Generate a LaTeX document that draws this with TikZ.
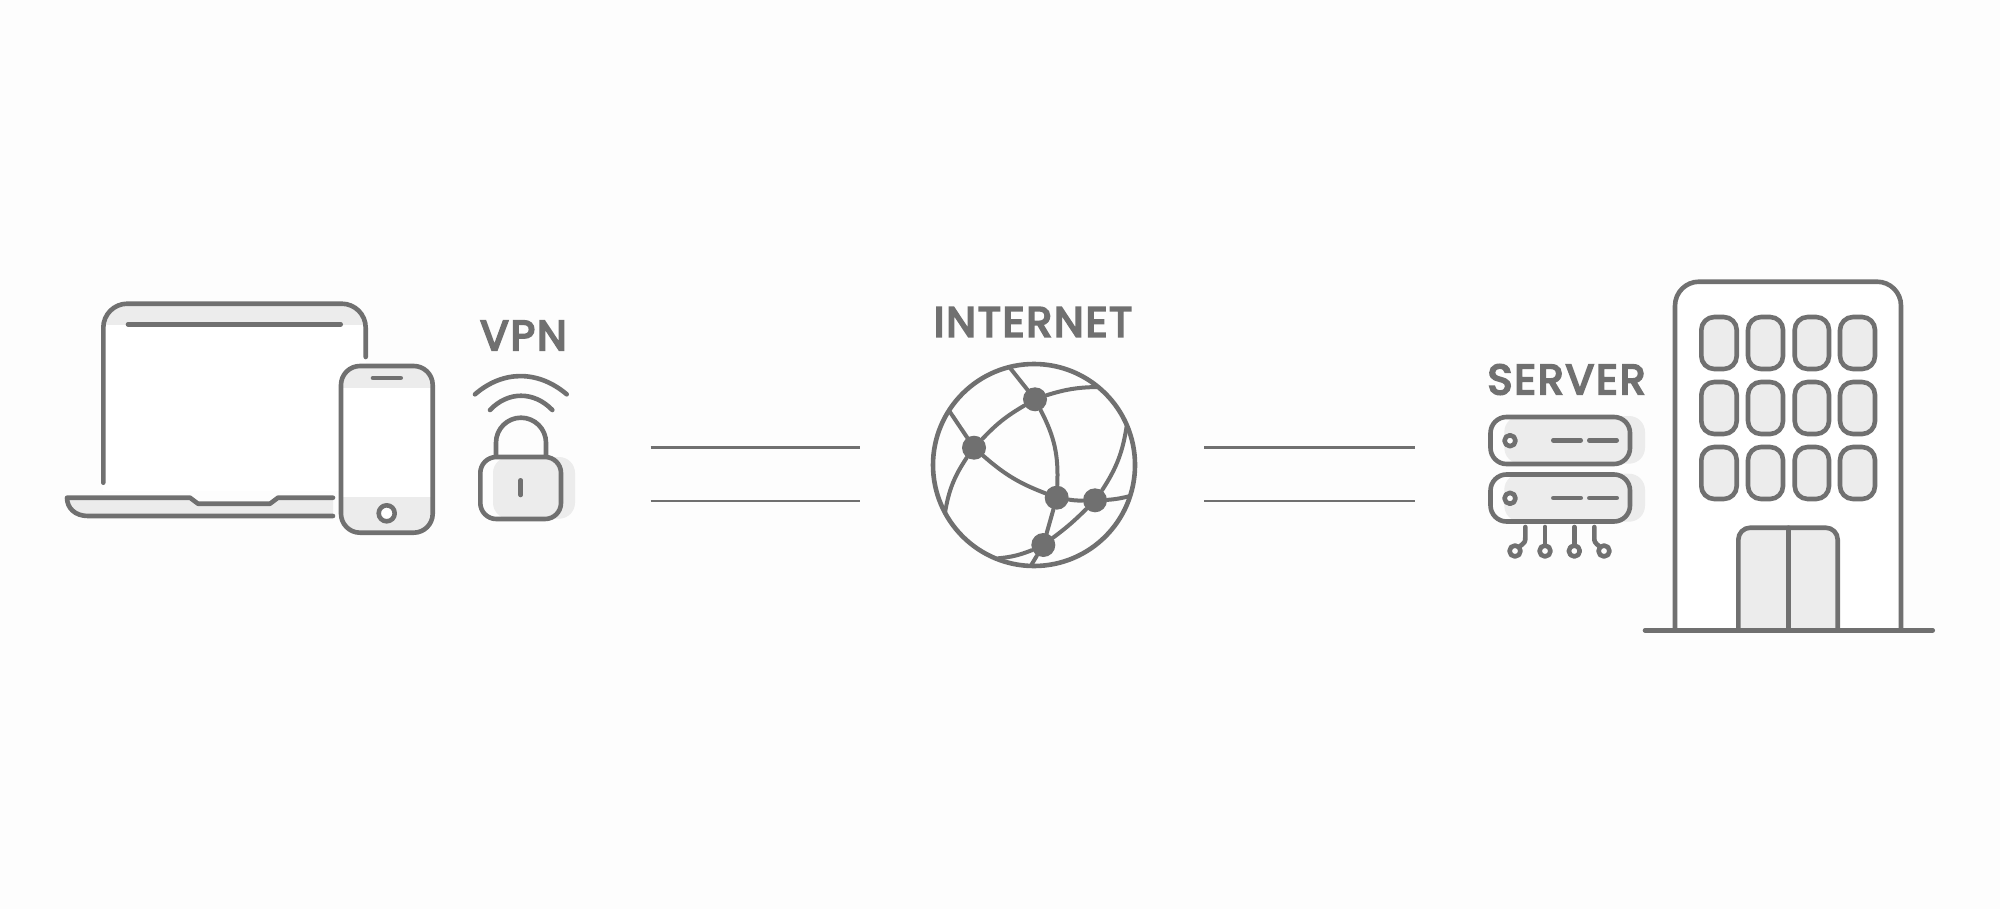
\documentclass[tikz,border=0pt]{standalone}
\usepackage{fontspec}
\setmainfont{Poppins}
\newfontfamily\lblfont{Poppins}[FakeBold=5,LetterSpace=5]
\definecolor{ink}{HTML}{707070}
\definecolor{softgray}{HTML}{ECECEC}
\definecolor{paper}{HTML}{FDFDFD}
\tikzset{
  px/.style={x=0.5pt,y=-0.5pt},
  stroke/.style={draw=ink,line width=2.3pt,line cap=round,line join=round},
  thin stroke/.style={draw=ink,line width=1.2pt},
  label text/.style={text=ink,inner sep=0pt,font=\fontsize{21}{24}\lblfont},
  hub/.style={circle,fill=ink,draw=none,inner sep=0pt,minimum size=12pt},
  link/.style={draw=ink,line width=2pt,line cap=round},
  window/.style={stroke,fill=softgray,rounded corners=6.5pt},
  pin/.style={stroke,fill=paper}
}
\begin{document}
\begin{tikzpicture}[px]
\useasboundingbox (0,0) rectangle (2000,909);
\fill[paper] (0,0) rectangle (2000,909);
\begin{scope}[yshift=-0.5pt]

% ---------- laptop
\fill[white,rounded corners=12pt] (103,303) rectangle (366,520);
\begin{scope}
  \clip (103,303) rectangle (366,323);
  \fill[softgray,rounded corners=12pt] (103,303) rectangle (366,360);
\end{scope}
\fill[paper] (60,490) rectangle (340,530);
\draw[stroke,rounded corners=12pt] (103.3,481.7) -- (103.3,302.7) -- (365.7,302.7) -- (365.7,356);
\draw[stroke] (128,323.3) -- (340.7,323.3);
\fill[softgray] (67,496.7) -- (190,496.7) -- (198,502.7) -- (270,502.7) -- (278,496.7) -- (333,496.7) -- (333,515) -- (88,515) .. controls (75,515) and (67,507) .. (67,496.7) -- cycle;
\draw[stroke] (333,496.7) -- (278,496.7) -- (270,502.7) -- (198,502.7) -- (190,496.7) -- (67,496.7) .. controls (67,507) and (75,515) .. (88,515) -- (333,515);

% ---------- phone
\fill[white,rounded corners=9.5pt] (341,365) rectangle (432.7,531.7);
\begin{scope}
  \clip (341,365) rectangle (432.7,386);
  \fill[softgray,rounded corners=9.5pt] (341,365) rectangle (432.7,420);
\end{scope}
\begin{scope}
  \clip (341,496.7) rectangle (432.7,531.7);
  \fill[softgray,rounded corners=9.5pt] (341,470) rectangle (432.7,531.7);
\end{scope}
\draw[stroke,rounded corners=9.5pt] (341,365) rectangle (432.7,531.7);
\draw[stroke] (373,377) -- (400.7,377);
\draw[stroke,fill=white] (386.7,512.3) circle (8);

% ---------- VPN
\node[label text] (vpn) at (523.5,334.5) {VPN};
\draw[stroke] (475,393.3) .. controls (503,369) and (538,369) .. (566.7,393.3);
\draw[stroke] (490,409) .. controls (508,390) and (534,390) .. (552.3,409);
\draw[stroke] (496,455) -- (496,441.7) arc[start angle=180,end angle=360,radius=25] -- (546,455);
\fill[softgray,rounded corners=8pt] (493,456) rectangle (575,517.7);
\draw[stroke,rounded corners=8pt] (480.3,456) rectangle (561,518);
\draw[stroke] (520.7,479.3) -- (520.7,494);

% ---------- wires
\coordinate (w1a) at (650.5,446.4); \coordinate (w1b) at (860,446.4);
\coordinate (w2a) at (650.5,500);   \coordinate (w2b) at (860,500);
\coordinate (w3a) at (1204,446.4);  \coordinate (w3b) at (1414.5,446.4);
\coordinate (w4a) at (1204,500);    \coordinate (w4b) at (1414.5,500);
\draw[thin stroke] (w1a) -- (w1b);
\draw[thin stroke] (w2a) -- (w2b);
\draw[thin stroke] (w3a) -- (w3b);
\draw[thin stroke] (w4a) -- (w4b);

% ---------- internet
\node[label text] (internet) at (1033,321) {INTERNET};
\draw[stroke] (1034,464) circle (101);
\node[hub] (A) at (1035,398.3) {};
\node[hub] (B) at (974,446.7) {};
\node[hub] (C) at (1056.7,496.7) {};
\node[hub] (D) at (1095,499.3) {};
\node[hub] (E) at (1043.3,544) {};
\coordinate (r1) at (1009.3,366);
\coordinate (r2) at (1096.7,386);
\coordinate (r3) at (949.3,410);
\coordinate (r4) at (945,511.7);
\coordinate (r5) at (1130,495);
\coordinate (r6) at (1126.7,425);
\coordinate (r7) at (998.3,557.3);
\coordinate (r8) at (1031.7,563.3);
\draw[link] (A) -- (r1);
\draw[link] (A) to[bend left=8] (r2);
\draw[link] (A) to[bend right=8] (B);
\draw[link] (A) to[bend left=15] (C);
\draw[link] (B) -- (r3);
\draw[link] (B) to[bend right=12] (r4);
\draw[link] (B) to[bend right=10] (C);
\draw[link] (C) to[bend right=5] (D);
\draw[link] (D) to[bend right=5] (r5);
\draw[link] (D) to[bend right=12] (r6);
\draw[link] (D) to[bend left=4] (E);
\draw[link] (C) -- (E);
\draw[link] (E) to[bend left=8] (r7);
\draw[link] (E) -- (r8);

% ---------- server
\node[label text] (server) at (1566.5,378.5) {SERVER};
\fill[softgray,rounded corners=8pt] (1504.3,415) rectangle (1645,462.7);
\fill[softgray,rounded corners=8pt] (1504.3,472.7) rectangle (1645,520.7);
\draw[stroke,rounded corners=8pt] (1490.5,416) rectangle (1630,463);
\draw[stroke,rounded corners=8pt] (1490.5,473.5) rectangle (1630,520.5);
\draw[stroke,fill=paper] (1510,439.7) circle (5.5);
\draw[stroke,fill=paper] (1510,497.3) circle (5.5);
\draw[stroke] (1553.3,439.3) -- (1580.7,439.3);
\draw[stroke] (1589.3,439.3) -- (1616.7,439.3);
\draw[stroke] (1553.3,497) -- (1580.7,497);
\draw[stroke] (1589.3,497) -- (1616.7,497);
\draw[stroke] (1525.3,526) -- (1525.3,536) .. controls (1525.3,541) .. (1519,546);
\draw[stroke] (1545,526) -- (1545,544);
\draw[stroke] (1574.3,526) -- (1574.3,544);
\draw[stroke] (1594.3,526) -- (1594.3,536) .. controls (1594.3,541) .. (1600,546);
\draw[pin] (1515,550) circle (5.5);
\draw[pin] (1545,550) circle (5.5);
\draw[pin] (1574.3,550) circle (5.5);
\draw[pin] (1604,550) circle (5.5);

% ---------- building
\begin{scope}
  \clip (1660,270) rectangle (1920,629.3);
  \fill[white,rounded corners=12pt] (1675,280.7) rectangle (1901,680);
  \fill[softgray,rounded corners=6pt] (1738.3,526.7) rectangle (1837.7,680);
\end{scope}
\draw[stroke,rounded corners=12pt] (1675,629.3) -- (1675,280.7) -- (1901,280.7) -- (1901,629.3);
\foreach \xa/\xb in {1701.3/1736.7,1748/1783,1794.7/1829,1840/1875}
  \foreach \ya/\yb in {316/368,381/433,446/498}
    \draw[window] (\xa,\ya) rectangle (\xb,\yb);
\draw[stroke,rounded corners=6pt] (1738.3,629.3) -- (1738.3,526.7) -- (1837.7,526.7) -- (1837.7,629.3);
\draw[stroke] (1788.7,526.7) -- (1788.7,629.3);
\draw[stroke] (1645,629.3) -- (1932.7,629.3);
\end{scope}
\end{tikzpicture}
\end{document}
